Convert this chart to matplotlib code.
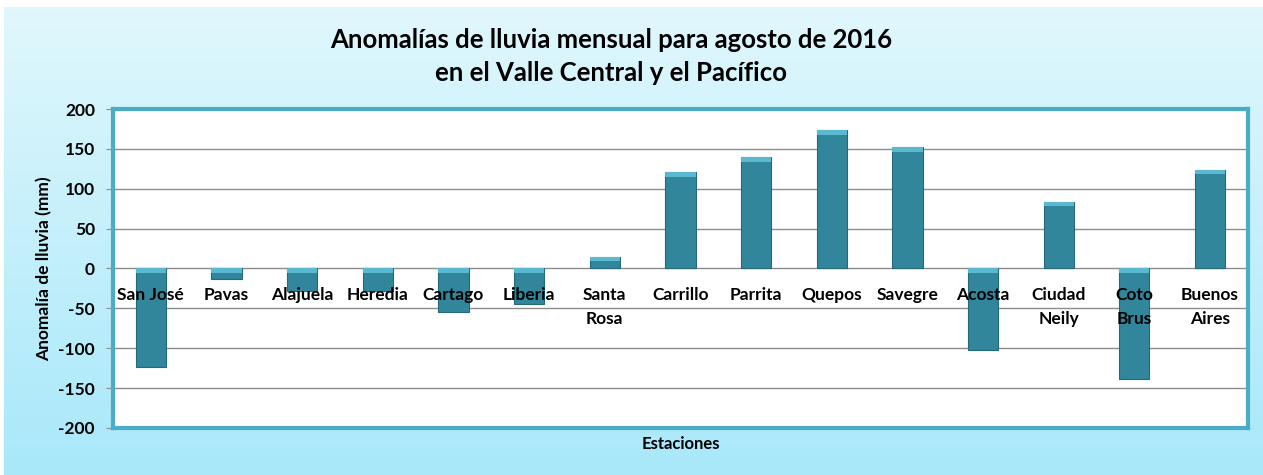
import numpy as np
import matplotlib.pyplot as plt

estaciones = ['San José', 'Pavas', 'Alajuela', 'Heredia', 'Cartago', 'Liberia',
              'Santa\nRosa', 'Carrillo', 'Parrita', 'Quepos', 'Savegre', 'Acosta',
              'Ciudad\nNeily', 'Coto\nBrus', 'Buenos\nAires']
anomalia = [-124, -13, -28, -28, -54, -45, 15, 121, 140, 174, 152, -102, 84, -138, 124]
yticks = [-200, -150, -100, -50, 0, 50, 100, 150, 200]

plt.rcParams['font.family'] = ['Lato', 'DejaVu Sans']

fig = plt.figure(figsize=(12.63, 4.75), dpi=100)

# fondo con degradado celeste
bg = fig.add_axes([0.003, 0, 0.997, 0.985], zorder=-10)
grad = np.linspace(0, 1, 256).reshape(-1, 1)
c_top = np.array([0.88, 0.97, 0.99])
c_bot = np.array([0.66, 0.91, 0.98])
img = c_top + (c_bot - c_top) * grad[:, :, None]
bg.imshow(img, aspect='auto', extent=[0, 1, 0, 1])
bg.axis('off')

ax = fig.add_axes([0.0895, 0.099, 0.8985, 0.6715])
ax.set_facecolor('white')
x = np.arange(len(estaciones))
vals = np.array(anomalia)
ax.bar(x, vals, width=0.4, color='#31869c', edgecolor='#25697a', linewidth=0.8, zorder=3)
# brillo en la parte superior de cada barra
cap = np.minimum(np.abs(vals), 6)
ax.bar(x, cap, bottom=np.maximum(vals, 0) - cap, width=0.4, color='#5ab8d0',
       linewidth=0, zorder=3.5)

ax.set_ylim(-200, 200)
ax.set_xlim(-0.5, len(estaciones) - 0.5)
ax.set_yticks(yticks)
ax.set_yticklabels([str(v) for v in yticks], fontsize=12.5, fontweight='bold')
ax.set_xticks([])
ax.yaxis.grid(True, color='#8c8c8c', linewidth=1)
ax.set_axisbelow(True)
ax.tick_params(axis='y', length=5, color='#8c8c8c', pad=8)
for s in ax.spines.values():
    s.set_color('#4bacc6')
    s.set_linewidth(3)

for xi, name in zip(x, estaciones):
    ax.text(xi, -23, name, ha='center', va='top', fontsize=12.5, fontweight='bold',
            linespacing=1.6, zorder=4)

ax.set_ylabel('Anomalía de lluvia (mm)', fontsize=12.5, fontweight='bold', labelpad=4)
ax.set_xlabel('Estaciones', fontsize=12, fontweight='bold', labelpad=6)

fig.text(0.484, 0.916, 'Anomalías de lluvia mensual para agosto de 2016',
         ha='center', va='center', fontsize=18.5, fontweight='bold')
fig.text(0.484, 0.846, 'en el Valle Central y el Pacífico',
         ha='center', va='center', fontsize=18.5, fontweight='bold')

fig.savefig('out.png', dpi=100)
